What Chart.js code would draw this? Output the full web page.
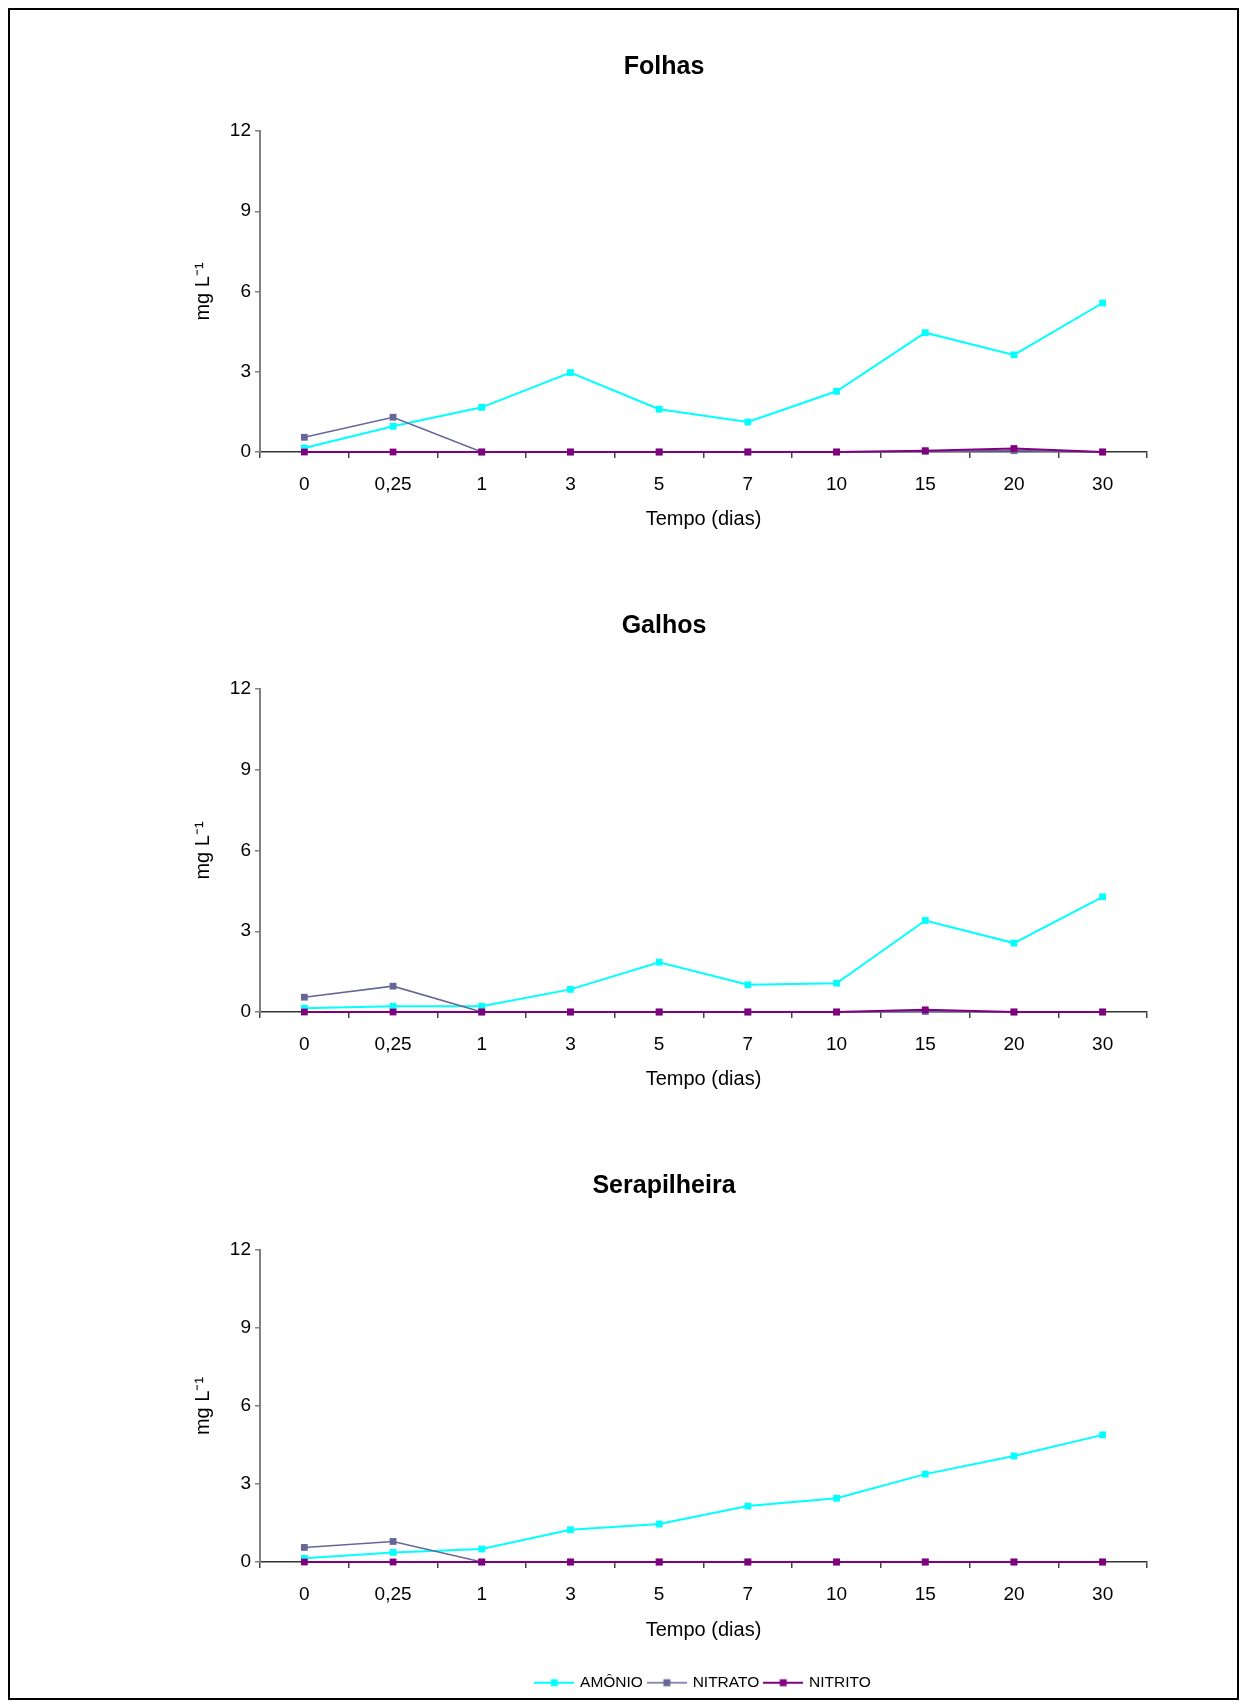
<!DOCTYPE html>
<html>
<head>
<meta charset="utf-8">
<title>Amônio, nitrato e nitrito</title>
<script src="https://cdn.jsdelivr.net/npm/chart.js@4.4.1/dist/chart.umd.min.js"></script>
<style>
  html, body { margin: 0; padding: 0; background: #fff; }
  #page { position: relative; width: 1247px; height: 1708px; overflow: hidden; background: #fff; }
  #frame { position: absolute; left: 8px; top: 8px; width: 1231px; height: 1692px;
           border: 2px solid #000; box-sizing: border-box; }
  canvas { position: absolute; left: 0; display: block; }
</style>
</head>
<body>
<div id="page">
  <div id="frame"></div>
  <canvas id="folhas" width="1247" height="560" style="top:0px"></canvas>
  <canvas id="galhos" width="1247" height="560" style="top:560px"></canvas>
  <canvas id="serapilheira" width="1247" height="588" style="top:1120px"></canvas>
</div>
<script>
// Sampling times (days) and y-axis ticks
const categories = ['0', '0,25', '1', '3', '5', '7', '10', '15', '20', '30'];
const yTicks = [0, 3, 6, 9, 12];
const seriesNames = ['AMÔNIO', 'NITRATO', 'NITRITO'];

// Folhas (mg L-1)
const amonioFolhas  = [0.15, 0.96, 1.67, 2.97, 1.60, 1.12, 2.27, 4.46, 3.63, 5.57];
const nitratoFolhas = [0.55, 1.30, 0, 0, 0, 0, 0, 0.02, 0.05, 0];
const nitritoFolhas = [0, 0, 0, 0, 0, 0, 0, 0.05, 0.13, 0];

// Galhos (mg L-1)
const amonioGalhos  = [0.14, 0.21, 0.21, 0.84, 1.85, 1.01, 1.07, 3.40, 2.56, 4.28];
const nitratoGalhos = [0.55, 0.96, 0, 0, 0, 0, 0, 0.02, 0, 0];
const nitritoGalhos = [0, 0, 0, 0, 0, 0, 0, 0.08, 0, 0];

// Serapilheira (mg L-1)
const amonioSerap  = [0.14, 0.37, 0.50, 1.24, 1.46, 2.15, 2.45, 3.38, 4.08, 4.89];
const nitratoSerap = [0.56, 0.79, 0, 0, 0, 0, 0, 0, 0, 0];
const nitritoSerap = [0, 0, 0, 0, 0, 0, 0, 0, 0, 0];

const FONT = "'Liberation Sans', Arial, Helvetica, sans-serif";
const COLORS = ['#00FFFF', '#666699', '#800080'];
const WIDTHS = [2, 1.6, 2];

// Line-with-square swatch used as the legend symbol
function swatch(color, lw) {
  const c = document.createElement('canvas');
  c.width = 40; c.height = 10;
  const g = c.getContext('2d');
  g.strokeStyle = color; g.lineWidth = lw;
  g.beginPath(); g.moveTo(0, 5); g.lineTo(40, 5); g.stroke();
  g.fillStyle = color; g.fillRect(16.5, 1.5, 7, 7);
  return c;
}

function dataset(i, values) {
  return {
    label: seriesNames[i],
    data: values,
    borderColor: COLORS[i],
    backgroundColor: COLORS[i],
    pointBackgroundColor: COLORS[i],
    borderWidth: WIDTHS[i],
    pointStyle: 'rect',
    pointRadius: 4.8,
    pointBorderWidth: 0,
    pointHoverRadius: 4.8,
    tension: 0,
    clip: false,
    order: 2 - i
  };
}

function makeChart(id, title, amonio, nitrato, nitrito, L) {
  new Chart(document.getElementById(id), {
    type: 'line',
    data: {
      labels: categories,
      datasets: [dataset(0, amonio), dataset(1, nitrato), dataset(2, nitrito)]
    },
    options: {
      responsive: false,
      animation: false,
      events: [],
      layout: { padding: { left: 181, right: 100, top: 0, bottom: L.padB } },
      plugins: {
        tooltip: { enabled: false },
        title: {
          display: true, text: title, color: '#000',
          font: { family: FONT, size: 25, weight: 'bold', lineHeight: 1.2 },
          padding: { top: L.titleTop, bottom: L.titleBottom }
        },
        legend: {
          display: L.legend,
          position: 'bottom',
          fullSize: false,
          labels: {
            usePointStyle: true,
            pointStyleWidth: 36,
            boxHeight: 10,
            padding: 6,
            color: '#000',
            font: { family: FONT, size: 15.5 },
            generateLabels: chart => chart.data.datasets.map((ds, i) => ({
              text: ds.label,
              pointStyle: swatch(COLORS[i], WIDTHS[i]),
              fillStyle: COLORS[i],
              strokeStyle: COLORS[i],
              lineWidth: 0,
              hidden: false,
              datasetIndex: i,
              fontColor: '#000'
            }))
          }
        }
      },
      scales: {
        x: {
          type: 'category',
          offset: true,
          grid: { offset: true, drawOnChartArea: false, drawTicks: true, tickLength: 6,
                  color: '#444', lineWidth: 1.5 },
          border: { color: '#333', width: 1.5 },
          ticks: { color: '#000', font: { family: FONT, size: 19 }, padding: 15,
                   maxRotation: 0, autoSkip: false },
          title: { display: true, text: 'Tempo (dias)', color: '#000',
                   font: { family: FONT, size: 20, lineHeight: 1.2 },
                   padding: { top: 0, bottom: L.xTitlePad } },
          afterFit: s => { s.height = L.xH; }
        },
        y: {
          min: 0, max: 12,
          afterBuildTicks: s => { s.ticks = yTicks.map(v => ({ value: v })); },
          grid: { drawOnChartArea: false, drawTicks: true, tickLength: 5,
                  color: '#808080', lineWidth: 1.5 },
          border: { color: '#808080', width: 2 },
          ticks: { color: '#000', font: { family: FONT, size: 19 }, padding: 4 },
          title: { display: true, text: 'mg L⁻¹', color: '#000',
                   font: { family: FONT, size: 20, lineHeight: 1.2 },
                   padding: { top: 10, bottom: 0 } },
          afterFit: s => { s.width = 79; }
        }
      }
    }
  });
}

makeChart('folhas', 'Folhas', amonioFolhas, nitratoFolhas, nitritoFolhas,
  { titleTop: 52, titleBottom: 49, xH: 108, xTitlePad: 29, padB: 0, legend: false });
makeChart('galhos', 'Galhos', amonioGalhos, nitratoGalhos, nitritoGalhos,
  { titleTop: 51, titleBottom: 48, xH: 108, xTitlePad: 29, padB: 0, legend: false });
makeChart('serapilheira', 'Serapilheira', amonioSerap, nitratoSerap, nitritoSerap,
  { titleTop: 51, titleBottom: 49, xH: 107, xTitlePad: 27, padB: 7.5, legend: true });
</script>
</body>
</html>
